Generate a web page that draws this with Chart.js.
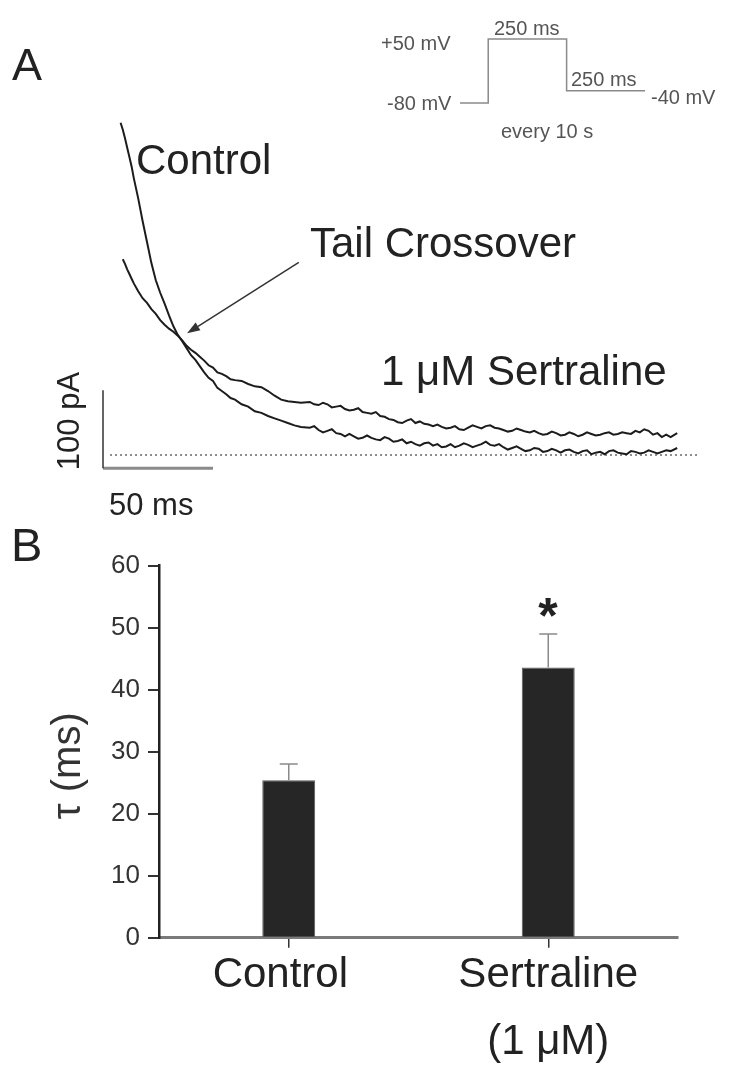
<!DOCTYPE html>
<html><head><meta charset="utf-8">
<script src="https://cdn.jsdelivr.net/npm/chart.js@4.4.1/dist/chart.umd.min.js"></script>
<style>
html,body{margin:0;padding:0;background:#fff;}
body{width:729px;height:1065px;position:relative;overflow:hidden;font-family:'Liberation Sans',Arial,sans-serif;}
canvas{position:absolute;}
.t{position:absolute;line-height:1;white-space:nowrap;color:#222;}
.ins{font-size:20px;color:#555;}
.big{font-size:42px;}
</style></head><body>
<canvas id="chartA" width="729" height="520" style="left:0px;top:0px"></canvas>
<canvas id="chartInset" width="210" height="80" style="left:450px;top:30px"></canvas>
<canvas id="chartB" width="729" height="545" style="left:0px;top:520px"></canvas>

<div class="t" style="left:12px;top:42px;font-size:45px">A</div>
<div class="t" style="left:11px;top:521px;font-size:47px">B</div>

<div class="t ins" style="left:381px;top:33px">+50 mV</div>
<div class="t ins" style="left:494px;top:18px">250 ms</div>
<div class="t ins" style="left:387px;top:93px">-80 mV</div>
<div class="t ins" style="left:571px;top:69px">250 ms</div>
<div class="t ins" style="left:651px;top:87px">-40 mV</div>
<div class="t ins" style="left:501px;top:121px">every 10 s</div>

<div class="t big" style="left:136px;top:139px">Control</div>
<div class="t big" style="left:310px;top:222px">Tail Crossover</div>
<div class="t big" style="left:381px;top:350px">1 μM Sertraline</div>
<div class="t" style="left:68px;top:421px;font-size:31px;transform:translate(-50%,-50%) rotate(-90deg)">100 pA</div>
<div class="t" style="left:109px;top:489px;font-size:31px">50 ms</div>

<div class="t" style="left:548px;top:591px;font-size:50px;font-weight:bold;transform:translateX(-50%)">*</div>

<script>
// ---------- Panel A: tail currents ----------
const tailTimeMs = [8,9,10,11,12,13,14,16,18,20,22,24,26,28,30,32,34,36,38,40,42,44,46,48,50,52,54,56,58,60,63,66,69,72,75,78,81,84,87,90,
  94,96,98,100,102,104,106,108,110,112,114,116,118,120,122,124,126,128,130,132,134,136,138,140,142,144,146,148,150,152,154,156,158,160,
  162,164,166,168,170,172,174,176,178,180,182,184,186,188,190,192,194,196,198,200,202,204,206,208,210,212,214,216,218,220,222,224,226,
  228,230,232,234,236,238,240,242,244,246,248,250,252,254,256,258,261];
const controlCurrentPa = [426,417,406,394,382,370,355,329,300,273,246,224,208,194,179,165,154,146,137,128,122,114,106,99,95,86,82,78,73,71,65,62,56,54,50,47,44,41,38,36,
  35,37,32,29,31,33,28,27,24,27,24,21,22,25,22,20,19,23,21,17,18,20,15,17,14,12,15,16,12,14,10,11,14,10,
  12,15,13,10,12,14,17,13,12,14,10,7,9,11,8,5,6,9,8,4,5,8,6,3,6,7,4,2,5,6,1,3,4,
  1,5,6,3,2,1,5,4,2,3,6,4,2,4,6,5,9];
const sertralineCurrentPa = [null,251,245,238,232,226,220,210,201,195,187,181,173,167,162,158,153,147,140,135,131,126,121,115,112,106,104,101,97,96,95,91,88,87,82,76,71,69,68,67,
  68,65,64,67,65,61,62,63,59,57,58,60,55,54,53,55,50,49,46,45,42,41,44,46,41,43,40,39,37,39,36,34,35,37,
  33,32,35,38,36,34,37,38,35,34,32,30,31,34,32,30,29,31,28,26,27,30,28,25,26,29,27,24,26,29,27,25,26,
  28,29,26,27,29,28,27,31,29,33,31,26,28,23,26,23,28];
const baselineSpanMs = [3.2, 271.4];
const scaleBarPa = 100;
const scaleBarMs = 50;
const scaleBarOrigin = {t: 0, pA: -17};
const arrowTailPoint = {t: 89, pA: 247};
const arrowHeadPoint = {t: 38.2, pA: 156};

// ---------- Inset: voltage protocol (schematic, not to scale) ----------
const protocolTimeMs = [-90, 0, 0, 250, 250, 500];
const protocolMv = [-80, -80, 50, 50, -40, -40];
const protocolLevelsMv = [-80, -40, 50];

// ---------- Panel B: time constants ----------
const groupLabels = ['Control\u2009\u2009', ['Sertraline', '(1 μM)']];
const tauMeanMs = [25.4, 43.6];
const tauSemMs = [2.6, 5.4];
const tauTicks = {min: 0, max: 60, step: 10};

const FONT = "'Liberation Sans', Arial, sans-serif";

// Schematic voltage axis: the drawn step heights are not proportional to mV
class SchematicScale extends Chart.LinearScale {
  getPixelForValue(value) {
    if (value === null || value === undefined) return NaN;
    const [lo, mid, hi] = protocolLevelsMv;
    const split = 0.19;
    const dec = value <= mid ? (value - lo) / (mid - lo) * split : split + (value - mid) / (hi - mid) * (1 - split);
    return this.getPixelForDecimal(dec);
  }
}
SchematicScale.id = 'schematic';
SchematicScale.defaults = Chart.LinearScale.defaults;
Chart.register(SchematicScale);

const ctrlPts = tailTimeMs.map((t, i) => ({x: t, y: controlCurrentPa[i]}));
const sertPts = tailTimeMs.map((t, i) => ({x: t, y: sertralineCurrentPa[i]})).filter(p => p.y !== null);
const lineBase = {pointRadius: 0, tension: 0, clip: false, fill: false};

const arrowPlugin = {
  id: 'arrow',
  afterDatasetsDraw(chart) {
    const {ctx, scales: {x, y}} = chart;
    const x0 = x.getPixelForValue(arrowTailPoint.t), y0 = y.getPixelForValue(arrowTailPoint.pA);
    const x1 = x.getPixelForValue(arrowHeadPoint.t), y1 = y.getPixelForValue(arrowHeadPoint.pA);
    const ang = Math.atan2(y1 - y0, x1 - x0);
    const hl = 13, hw = 4.5;
    const bx = x1 - hl * Math.cos(ang), by = y1 - hl * Math.sin(ang);
    ctx.save();
    ctx.strokeStyle = '#333'; ctx.fillStyle = '#333'; ctx.lineWidth = 1.5;
    ctx.beginPath(); ctx.moveTo(x0, y0); ctx.lineTo(bx, by); ctx.stroke();
    ctx.beginPath(); ctx.moveTo(x1, y1);
    ctx.lineTo(bx - hw * Math.sin(ang), by + hw * Math.cos(ang));
    ctx.lineTo(bx + hw * Math.sin(ang), by - hw * Math.cos(ang));
    ctx.closePath(); ctx.fill();
    ctx.restore();
  }
};

new Chart(document.getElementById('chartA'), {
  type: 'line',
  data: {datasets: [
    Object.assign({label: 'Control', data: ctrlPts, borderColor: '#1c1c1c', borderWidth: 2}, lineBase),
    Object.assign({label: '1 μM Sertraline', data: sertPts, borderColor: '#1c1c1c', borderWidth: 2}, lineBase),
    Object.assign({label: 'zero', data: [{x: baselineSpanMs[0], y: 0}, {x: baselineSpanMs[1], y: 0}], borderColor: '#666', borderWidth: 1.5, borderDash: [2, 3]}, lineBase),
    Object.assign({label: '100 pA', data: [{x: scaleBarOrigin.t, y: scaleBarOrigin.pA + scaleBarPa}, {x: scaleBarOrigin.t, y: scaleBarOrigin.pA}], borderColor: '#333', borderWidth: 1.5}, lineBase),
    Object.assign({label: '50 ms', data: [{x: scaleBarOrigin.t, y: scaleBarOrigin.pA}, {x: scaleBarOrigin.t + scaleBarMs, y: scaleBarOrigin.pA}], borderColor: '#8a8a8a', borderWidth: 3}, lineBase)
  ]},
  options: {
    responsive: false, animation: false, events: [],
    layout: {padding: {left: 103, right: 27.6, top: 111.8, bottom: 49.4}},
    scales: {
      x: {type: 'linear', min: 0, max: 272, display: false},
      y: {type: 'linear', min: -20, max: 440, display: false}
    },
    plugins: {legend: {display: false}, tooltip: {enabled: false}}
  },
  plugins: [arrowPlugin]
});

new Chart(document.getElementById('chartInset'), {
  type: 'line',
  data: {datasets: [Object.assign({data: protocolTimeMs.map((t, i) => ({x: t, y: protocolMv[i]})), borderColor: '#8a8a8a', borderWidth: 1.5}, lineBase)]},
  options: {
    responsive: false, animation: false, events: [],
    layout: {padding: {left: 10, right: 15, top: 9, bottom: 7}},
    scales: {
      x: {type: 'linear', min: -90, max: 500, display: false},
      y: {type: 'schematic', min: protocolLevelsMv[0], max: protocolLevelsMv[2], display: false}
    },
    plugins: {legend: {display: false}, tooltip: {enabled: false}}
  }
});

const errorBarPlugin = {
  id: 'errorBars',
  afterDatasetsDraw(chart) {
    const {ctx, scales: {y}} = chart;
    const meta = chart.getDatasetMeta(0);
    ctx.save();
    ctx.strokeStyle = '#8a8a8a'; ctx.lineWidth = 1.5;
    meta.data.forEach((bar, i) => {
      const top = y.getPixelForValue(tauMeanMs[i] + tauSemMs[i]);
      ctx.beginPath();
      ctx.moveTo(bar.x, bar.y); ctx.lineTo(bar.x, top);
      ctx.moveTo(bar.x - 9, top); ctx.lineTo(bar.x + 9, top);
      ctx.stroke();
    });
    ctx.restore();
  }
};

new Chart(document.getElementById('chartB'), {
  type: 'bar',
  data: {labels: groupLabels, datasets: [{
    data: tauMeanMs, backgroundColor: '#262626', borderColor: '#5a5a5a', borderWidth: 1,
    categoryPercentage: 1, barPercentage: 0.204
  }]},
  options: {
    responsive: false, animation: false, events: [],
    layout: {padding: {left: 0, right: 51, top: 45.7, bottom: 0}},
    scales: {
      x: {
        grid: {offset: false, drawOnChartArea: false, drawTicks: true, tickLength: 10, color: '#333', lineWidth: 1.5},
        border: {display: true, color: '#7a7a7a', width: 3},
        ticks: {font: {family: FONT, size: 42, lineHeight: 1.6}, color: '#222', padding: -6, maxRotation: 0, autoSkip: false},
        afterFit(s) { s.height = 127.3; }
      },
      y: {
        min: tauTicks.min, max: tauTicks.max,
        ticks: {stepSize: tauTicks.step, font: {family: FONT, size: 26}, color: '#333', padding: 8},
        grid: {drawOnChartArea: false, drawTicks: true, tickLength: 11, color: '#333', lineWidth: 2},
        border: {display: true, color: '#222', width: 2.5},
        title: {display: true, text: 'τ (ms)\u2002\u2009', font: {family: FONT, size: 40}, color: '#333', padding: {top: 45, bottom: 0}},
        afterFit(s) { s.width = 159; }
      }
    },
    plugins: {legend: {display: false}, tooltip: {enabled: false}}
  },
  plugins: [errorBarPlugin]
});
</script>
</body></html>
